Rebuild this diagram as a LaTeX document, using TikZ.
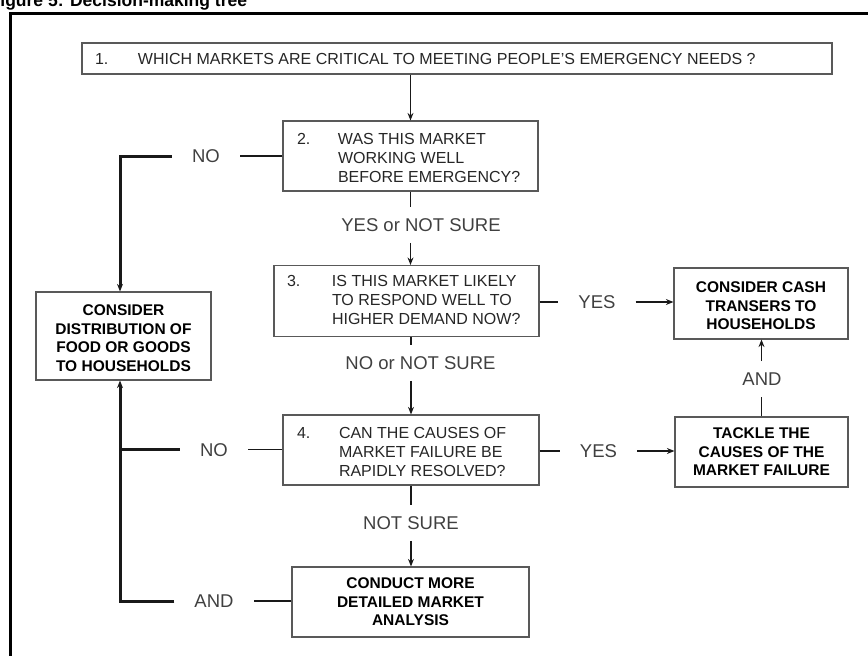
\documentclass[tikz,border=0pt]{standalone}
\usepackage{fontspec}
\setmainfont{Liberation Sans}
\usetikzlibrary{arrows.meta,calc}

\tikzset{
  qbox/.style={draw=black!65, line width=1.2pt, inner sep=0pt,
    font=\fontsize{16}{19}\selectfont, text=black!85},
  abox/.style={draw=black!65, line width=1.2pt, inner sep=0pt,
    font=\bfseries\fontsize{15.5}{18.7}\selectfont, text=black},
  lbl/.style={inner xsep=20pt, inner ysep=11pt, text height=13.2pt, text depth=0pt,
    font=\fontsize{18.5}{20}\selectfont, text=black!75},
  conn/.style={line width=1.6pt, draw=black!90},
  rail/.style={line width=3pt, draw=black!90},
  tip/.style={-{Stealth[length=7.5pt,width=6pt,inset=2.5pt]}},
}

\begin{document}
\begin{tikzpicture}[x=1pt,y=-1pt]
\useasboundingbox (0,0) rectangle (868,656);
\clip (0,0) rectangle (868,656);

% heading and frame
\node[anchor=base west, inner sep=0pt, font=\bfseries\fontsize{17.5}{20}\selectfont]
  (title) at (-10.5,6.5) {Figure 5: Decision-making tree};
\draw[line width=3pt, black] (10,670) -- (10,13) -- (880,13);

% question boxes
\node[qbox, minimum width=750pt, minimum height=31pt, text height=12.4pt, text depth=0pt]
  (q1) at (457,58.5)
  {\begin{tabular}[t]{@{}p{43pt}@{}p{681pt}@{}}1.&WHICH MARKETS ARE CRITICAL TO MEETING PEOPLE'S EMERGENCY NEEDS ?\end{tabular}};

\node[qbox, minimum width=255pt, minimum height=70pt, text height=0pt, text depth=22.5pt]
  (q2) at (410.5,156)
  {\begin{tabular}[t]{@{}p{41pt}@{}p{186pt}@{}}2.&WAS THIS MARKET\\&WORKING WELL\\&BEFORE EMERGENCY?\end{tabular}};

\node[qbox, minimum width=265pt, minimum height=71pt, text height=0pt, text depth=28.5pt]
  (q3) at (406.5,301)
  {\begin{tabular}[t]{@{}p{45pt}@{}p{194pt}@{}}3.&IS THIS MARKET LIKELY\\&TO RESPOND WELL TO\\&HIGHER DEMAND NOW?\end{tabular}};

\node[qbox, minimum width=256pt, minimum height=70pt, text height=0pt, text depth=22.5pt]
  (q4) at (411,450)
  {\begin{tabular}[t]{@{}p{42pt}@{}p{186pt}@{}}4.&CAN THE CAUSES OF\\&MARKET FAILURE BE\\&RAPIDLY RESOLVED?\end{tabular}};

% action boxes
\node[abox, minimum width=175pt, minimum height=88pt, text height=0pt, text depth=40.9pt]
  (dist) at (123.5,336)
  {\begin{tabular}[t]{@{}c@{}}CONSIDER\\DISTRIBUTION OF\\FOOD OR GOODS\\TO HOUSEHOLDS\end{tabular}};

\node[abox, minimum width=174pt, minimum height=71pt, text height=0pt, text depth=21.9pt]
  (cash) at (761,303.5)
  {\begin{tabular}[t]{@{}c@{}}CONSIDER CASH\\TRANSERS TO\\HOUSEHOLDS\end{tabular}};

\node[abox, minimum width=173pt, minimum height=70pt, text height=0pt, text depth=26.9pt]
  (tackle) at (761.5,452)
  {\begin{tabular}[t]{@{}c@{}}TACKLE THE\\CAUSES OF THE\\MARKET FAILURE\end{tabular}};

\node[abox, minimum width=237pt, minimum height=70pt, text height=0pt, text depth=26.9pt]
  (conduct) at (410.5,602)
  {\begin{tabular}[t]{@{}c@{}}CONDUCT MORE\\DETAILED MARKET\\ANALYSIS\end{tabular}};

% connector labels
\node[lbl] (no1)  at (206,156)   {NO};
\node[lbl] (yes1) at (421,225)   {YES or NOT SURE};
\node[lbl] (yes2) at (597,302)   {YES};
\node[lbl] (no3)  at (420.5,363) {NO or NOT SURE};
\node[lbl] (and1) at (762,379)   {AND};
\node[lbl] (no2)  at (214,449.5) {NO};
\node[lbl] (yes3) at (598.5,451) {YES};
\node[lbl] (ns)   at (411,523)   {NOT SURE};
\node[lbl] (and2) at (214,601)   {AND};

% rail on the left
\coordinate (railtop) at (120,156);
\coordinate (railmid) at (120,449.5);
\coordinate (railbot) at (120,601);

% main spine
\draw[conn,tip] (q1.south -| q2.north) -- (q2.north);
\draw[conn] (q2.south) -- (q2.south |- yes1.north);
\draw[conn,tip] (q2.south |- yes1.south) -- (q2.south |- q3.north);
\draw[conn] (q4.north |- q3.south) -- (q4.north |- no3.north);
\draw[conn,tip] (q4.north |- no3.south) -- (q4.north);
\draw[conn] (q4.south) -- (q4.south |- ns.north);
\draw[conn,tip] (q4.south |- ns.south) -- (q4.south |- conduct.north);

% right branch
\draw[conn] (q3.east |- yes2) -- (yes2.west);
\draw[conn,tip] (yes2.east) -- (yes2.east -| cash.west);
\draw[conn] (q4.east |- yes3) -- (yes3.west);
\draw[conn,tip] (yes3.east) -- (yes3.east -| tackle.west);
\draw[conn] (tackle.north) -- (tackle.north |- and1.south);
\draw[conn,tip] (tackle.north |- and1.north) -- (tackle.north |- cash.south);

% left branch
\draw[conn] (q2.west) -- (no1.east);
\draw[rail,tip] (no1.west) -- (railtop) -- (railtop |- dist.north);
\draw[conn] (q4.west |- no2) -- (no2.east);
\draw[rail] (no2.west) -- (railmid);
\draw[conn] (conduct.west |- and2) -- (and2.east);
\draw[rail,tip] (and2.west) -- (railbot) -- (railbot |- dist.south);
\end{tikzpicture}
\end{document}
